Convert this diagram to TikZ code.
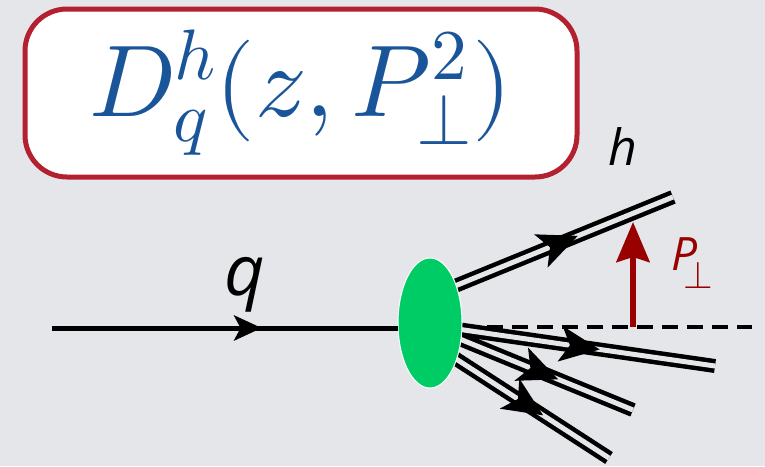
\documentclass[tikz,border=0pt]{standalone}
\usepackage{fontspec}
\usepackage{unicode-math}
\setmathfont{Latin Modern Math}
\newfontfamily\labfont{Open Sans}
\usetikzlibrary{arrows.meta,decorations.markings,shapes.geometric}
\definecolor{bgcol}{HTML}{E4E6EA}
\definecolor{boxred}{HTML}{B3202F}
\definecolor{formblue}{HTML}{1A5599}
\definecolor{blobgreen}{HTML}{00CC66}
\definecolor{pred}{HTML}{990000}
\tikzset{
  jet/.style={draw=black, line width=4.5pt, double=bgcol, double distance=5pt},
  midarrow/.style={decoration={markings, mark=at position #1 with {\fill[black] (20pt,0pt) -- (-20pt,18pt) -- (-10pt,0pt) -- (-20pt,-18pt) -- cycle;}}, postaction={decorate}},
  qarrow/.style={decoration={markings, mark=at position #1 with {\fill[black] (14pt,0pt) -- (-14pt,13pt) -- (-7pt,0pt) -- (-14pt,-13pt) -- cycle;}}, postaction={decorate}},
  lab/.style={font=\labfont\itshape},
}
\begin{document}
\begin{tikzpicture}[x=1pt,y=-1pt]
\fill[bgcol] (0,0) rectangle (765,466);
\useasboundingbox (0,0) rectangle (765,466);
% formula box
\node[draw=boxred, line width=5pt, fill=white, rounded corners=42pt,
      minimum width=552pt, minimum height=168pt, inner sep=0pt,
      text=formblue, font=\fontsize{102}{120}\selectfont] (box) at (301,93)
      {$D_q^h(z,P_\perp^2)$};
% coordinates
\coordinate (dashend) at (752,327);
\coordinate (h1s) at (450,288);
\coordinate (h1e) at (673,197);
\coordinate (j2s) at (450,328);
\coordinate (j2e) at (715,366);
\coordinate (j3s) at (450,335);
\coordinate (j3e) at (633,410);
\coordinate (j4s) at (450,355);
\coordinate (j4e) at (609,458);
\coordinate (qs) at (52,328);
\coordinate (pbase) at (633,327);
\coordinate (ptip) at (633,222);
% dashed line
\draw[line width=3.5pt, dash pattern=on 16pt off 9pt] (462,327) -- (dashend);
% red arrow
\draw[pred, line width=6pt, -{Stealth[length=40pt,width=33pt,inset=5pt]}] (pbase) -- (ptip);
% jets
\draw[jet] (h1s) -- (h1e);
\path[midarrow=0.49] (h1s) -- (h1e);
\draw[jet] (j2s) -- (j2e);
\draw[jet] (j3s) -- (j3e);
\draw[jet] (j4s) -- (j4e);
\path[midarrow=0.49] (j2s) -- (j2e);
\path[midarrow=0.49] (j3s) -- (j3e);
\path[midarrow=0.48] (j4s) -- (j4e);
% blob
\node[ellipse, fill=blobgreen, draw=white, line width=1pt,
      minimum width=64pt, minimum height=130pt, inner sep=0pt] (blob) at (430,323) {};
% incoming quark
\draw[line width=5pt] (qs) -- (blob.west |- qs);
\path[qarrow=0.566] (qs) -- (blob.west |- qs);
% labels
\node[lab, font=\fontsize{70}{80}\labfont\itshape, anchor=base] (ql) at (245,295) {q};
\node[lab, font=\fontsize{50}{60}\labfont\itshape, anchor=base] (hl) at (623,165) {h};
\node[lab, text=pred, font=\fontsize{46}{56}\labfont\itshape, anchor=base west, inner sep=0pt] (pl) at (671,270) {P\kern-14pt\raisebox{-18pt}{\fontsize{38}{40}\selectfont$\perp$}};
\end{tikzpicture}
\end{document}
